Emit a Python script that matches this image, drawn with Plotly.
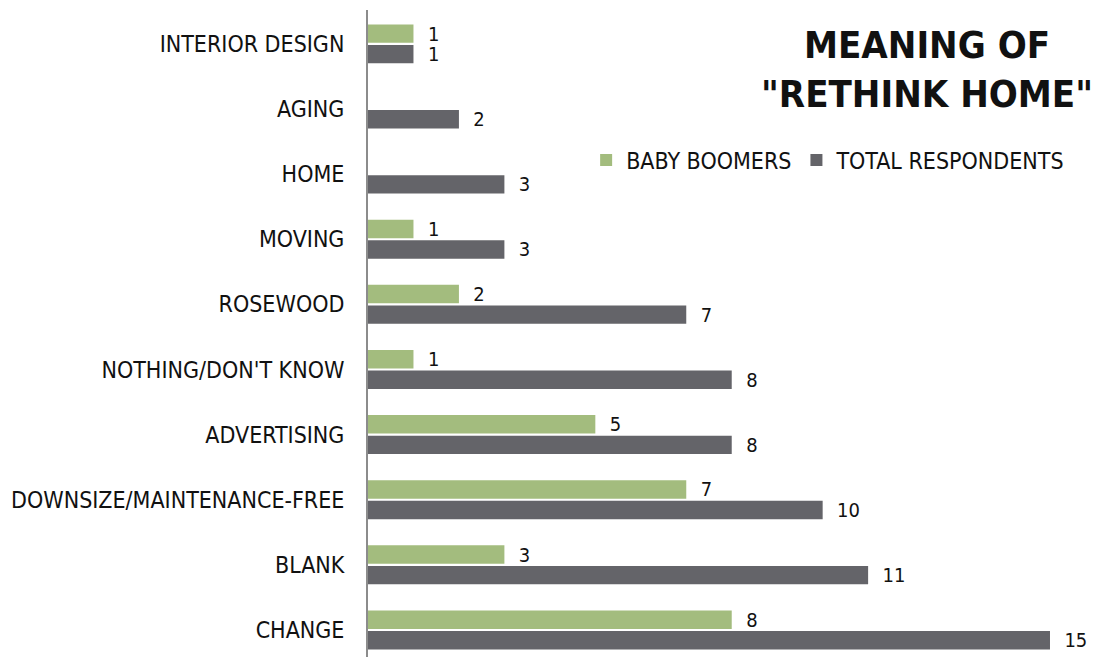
import plotly.graph_objects as go

# Survey answers, listed bottom to top as drawn on the category axis
categories = [
    "CHANGE",
    "BLANK",
    "DOWNSIZE/MAINTENANCE-FREE",
    "ADVERTISING",
    "NOTHING/DON'T KNOW",
    "ROSEWOOD",
    "MOVING",
    "HOME",
    "AGING",
    "INTERIOR DESIGN",
]
baby_boomers = [8, 3, 7, 5, 1, 2, 1, None, None, 1]
total_respondents = [15, 11, 10, 8, 8, 7, 3, 3, 2, 1]

FONT = "DejaVu Sans Condensed, Liberation Sans Narrow, Arial Narrow, sans-serif"
GREEN = "#a3bc7e"
GRAY = "#646469"


def labels(values):
    # leading spaces push the value a little away from the bar end
    return ["" if v is None else "  " + str(v) for v in values]


fig = go.Figure()

# Total respondents first so it sits below the green bar within each group
fig.add_trace(go.Bar(
    name="TOTAL RESPONDENTS",
    y=categories,
    x=total_respondents,
    orientation="h",
    marker=dict(color=GRAY, line=dict(width=0)),
    text=labels(total_respondents),
    textposition="outside",
    constraintext="none",
    textfont=dict(family=FONT, size=20, color="#111111"),
    cliponaxis=False,
    legendrank=2,
))
fig.add_trace(go.Bar(
    name="BABY BOOMERS",
    y=categories,
    x=baby_boomers,
    orientation="h",
    marker=dict(color=GREEN, line=dict(width=0)),
    text=labels(baby_boomers),
    textposition="outside",
    constraintext="none",
    textfont=dict(family=FONT, size=20, color="#111111"),
    cliponaxis=False,
    legendrank=1,
))

fig.update_layout(
    width=1100,
    height=657,
    margin=dict(l=368, r=0, t=10, b=0),
    paper_bgcolor="white",
    plot_bgcolor="white",
    barmode="group",
    bargap=0.37,
    bargroupgap=0.1,
    font=dict(family=FONT, color="#111111"),
    showlegend=True,
    legend=dict(
        orientation="h",
        x=0.298, y=0.768,
        xanchor="left", yanchor="middle",
        font=dict(family=FONT, size=23, color="#111111"),
        itemwidth=30,
        bgcolor="rgba(0,0,0,0)",
        tracegroupgap=0,
    ),
    annotations=[
        dict(
            text="MEANING OF<br>\"RETHINK HOME\"",
            xref="paper", yref="paper",
            x=0.763, y=0.983,
            xanchor="center", yanchor="top",
            showarrow=False,
            align="center",
            font=dict(family=FONT, size=38, color="#111111", weight="bold"),
        )
    ],
)

fig.update_xaxes(
    range=[0, 16.1],
    showgrid=False,
    zeroline=False,
    showticklabels=False,
    ticks="",
    showline=False,
)
fig.update_yaxes(
    range=[-0.415, 9.52],
    showgrid=False,
    zeroline=False,
    showline=True,
    linecolor="#8c8c8c",
    linewidth=2,
    ticks="",
    ticklabelstandoff=17,
    tickfont=dict(family=FONT, size=23, color="#111111"),
)

fig.write_html("out.html")
